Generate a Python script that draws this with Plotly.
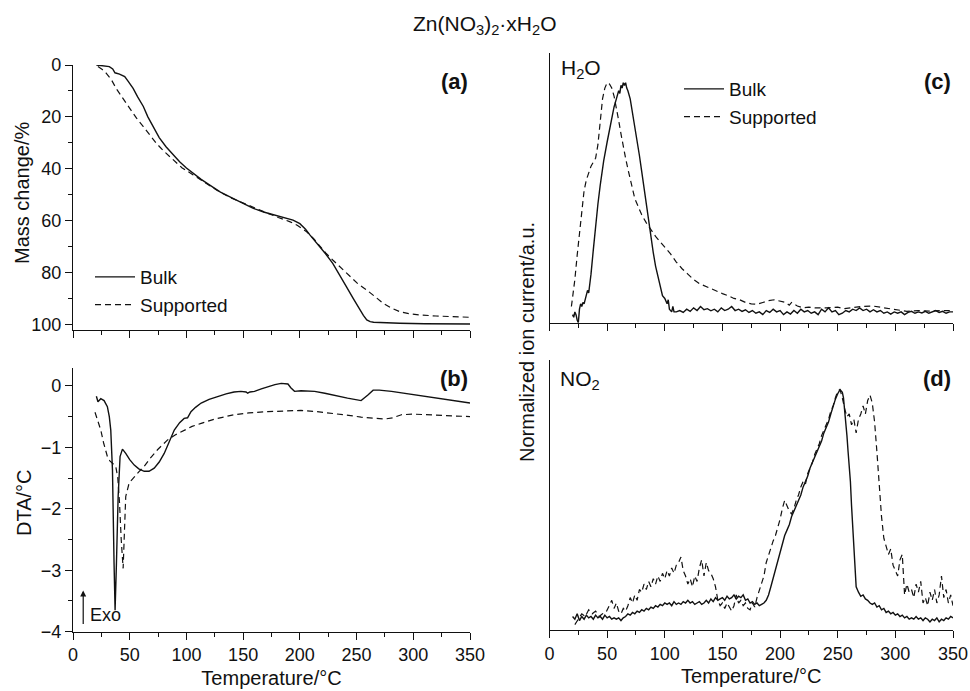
import plotly.graph_objects as go

# ---------------- (a) TG: mass change / % ----------------
tg_bulk_T = [20.6, 26, 32, 35, 37, 41, 45.6, 49, 53, 57, 62, 66, 70.6, 76, 82, 88, 94, 100, 106, 113,
             120.6, 130, 141, 150, 159, 168, 176.5, 185, 194, 200, 205, 209, 213, 217.6, 223, 229, 235,
             241, 247, 253, 256, 259, 262, 265, 275, 288, 310, 330, 350]
tg_bulk_m = [0, 0.2, 0.6, 1.5, 3, 3.5, 4.5, 6.5, 9, 12.3, 16, 20, 23.8, 28, 31.5, 34.6, 37.3, 39.7, 41.8, 44.1,
             46.3, 49, 51.4, 53.4, 55.3, 56.7, 57.8, 58.8, 59.8, 61.2, 63.3, 65.6, 67.7, 70, 73, 76.5, 80.8,
             85.5, 90, 94.5, 96.6, 98.3, 99, 99.2, 99.4, 99.6, 99.8, 99.9, 99.9]

tg_sup_T = [22, 25.5, 29.4, 34, 38, 44, 50, 56, 62, 67.5, 73.5, 80, 88, 96, 106, 116, 126.5, 138, 150, 160,
            170.6, 181, 191, 198, 206, 212, 217.6, 223, 229, 236, 244, 251, 259, 266, 273.5, 281, 288, 296,
            306, 320, 335, 350]
tg_sup_m = [0.6, 1.6, 3.2, 5.8, 9, 13, 16.7, 20.5, 23.8, 27, 30.2, 33.2, 36.6, 39.6, 42.4, 45.4, 48.2, 51, 53.3, 55.2,
            57, 58.8, 60.4, 61.9, 64.3, 66.9, 70, 72.6, 75.2, 78.2, 81.6, 84.3, 86.8, 89.3, 91.9, 93.8, 95.1, 95.9,
            96.4, 96.8, 97.1, 97.3]

# ---------------- (b) DTA / °C ----------------
dta_bulk_T = [20.6, 22, 24.5, 27.4, 30.3, 32, 33.3, 34.8, 36.2, 37.1, 38.3, 39.8, 41.5, 43.6, 46.5, 50, 54,
              58, 62.8, 67, 71.6, 76, 80.4, 85, 89.3, 94, 98, 101, 104, 108, 113, 120, 127.6, 135, 142,
              148, 152.6, 154, 156, 160, 166, 171.8, 178, 183.6, 187, 189.5, 192, 195.3, 201, 213, 222,
              230.7, 242, 254, 257, 260, 264.6, 270, 280.8, 292, 304, 320, 335, 350]
dta_bulk_v = [-0.17, -0.26, -0.21, -0.24, -0.34, -0.5, -0.72, -1.37, -2.89, -3.65, -2.89, -1.8, -1.15, -1.03, -1.1, -1.2, -1.29,
              -1.35, -1.39, -1.39, -1.34, -1.24, -1.1, -0.9, -0.72, -0.6, -0.53, -0.52, -0.42, -0.35, -0.28, -0.22, -0.17, -0.13, -0.1,
              -0.09, -0.1, -0.12, -0.1, -0.09, -0.05, -0.01, 0.02, 0.04, 0.04, 0.03, -0.03, -0.09, -0.08, -0.09, -0.12,
              -0.16, -0.2, -0.24, -0.2, -0.15, -0.07, -0.07, -0.09, -0.12, -0.16, -0.2, -0.24, -0.28]

dta_sup_T = [19.4, 22, 24.5, 27, 30.3, 32.5, 34.8, 37.7, 39.5, 41, 42.5, 44.2, 45.3, 46.5, 49.5, 54, 58, 62.8,
             68, 74.5, 83.4, 90, 98, 105, 113, 125, 142, 155, 171.8, 185, 201, 215, 230.7, 243, 254, 265,
             275, 282, 289.6, 300, 319, 335, 350]
dta_sup_v = [-0.43, -0.58, -0.72, -0.93, -1.15, -1.22, -1.26, -1.31, -1.5, -1.9, -2.5, -2.97, -2.4, -1.8, -1.58, -1.48, -1.4, -1.31,
             -1.18, -1.04, -0.88, -0.8, -0.72, -0.66, -0.61, -0.54, -0.47, -0.44, -0.42, -0.41, -0.4, -0.42, -0.45, -0.48, -0.51, -0.53,
             -0.54, -0.52, -0.47, -0.46, -0.48, -0.49, -0.5]

# ---------------- (c) H2O ion current (normalized) ----------------
h2o_bulk_T = [20, 21, 22, 23, 24, 25, 26, 27, 28, 29, 30, 31, 32, 33, 34, 35, 36, 38, 40, 42, 44, 47, 50, 53,
              56, 58, 60, 61, 62, 63, 64, 65, 66, 67, 68, 70, 72, 74, 76, 78, 80, 82, 84, 86, 88, 90, 92,
              94, 96, 98, 100, 101, 102, 103, 104, 106, 107, 108,
              110, 113, 116, 119, 122, 125, 128, 131, 134, 137, 140, 143, 146, 149, 152, 155, 158, 161, 164,
              167, 170, 173, 176, 179, 182, 185, 188, 191, 194, 197, 200, 203, 206, 209, 212, 215, 218, 221,
              224, 227, 230, 233, 236, 239, 242, 245, 248, 251, 254, 257, 260, 263, 266, 269, 272, 275, 278,
              281, 284, 287, 290, 293, 296, 299, 302, 305, 308, 311, 314, 317, 320, 323, 326, 329, 332, 335,
              338, 341, 344, 347, 350]
h2o_bulk_v = [0.03, 0.02, 0.04, 0.03, 0.01, 0.0, 0.05, 0.07, 0.06, 0.075, 0.07, 0.09, 0.1, 0.12, 0.11, 0.14, 0.18, 0.27, 0.36, 0.44, 0.51, 0.6, 0.67, 0.74,
              0.8, 0.83, 0.86, 0.85, 0.88, 0.87, 0.89, 0.88, 0.89, 0.87, 0.86, 0.83, 0.78, 0.73, 0.68, 0.62, 0.56, 0.5, 0.43, 0.37, 0.31, 0.26, 0.21,
              0.17, 0.13, 0.1, 0.09, 0.08, 0.07, 0.085, 0.05, 0.04, 0.06, 0.04,
              0.04, 0.045, 0.038, 0.05, 0.042, 0.055, 0.045, 0.06, 0.048, 0.052, 0.044, 0.05, 0.04, 0.055, 0.045, 0.05, 0.06, 0.045, 0.05,
              0.042, 0.048, 0.038, 0.045, 0.035, 0.04, 0.03, 0.045, 0.038, 0.05, 0.04, 0.045, 0.03, 0.04, 0.032, 0.045, 0.035, 0.05, 0.04,
              0.045, 0.035, 0.04, 0.03, 0.05, 0.04, 0.055, 0.04, 0.045, 0.03, 0.035, 0.045, 0.04, 0.05, 0.045, 0.055, 0.045, 0.05, 0.04,
              0.048, 0.04, 0.045, 0.035, 0.04, 0.032, 0.04, 0.035, 0.04, 0.03, 0.038, 0.042, 0.035, 0.04, 0.036, 0.042, 0.035, 0.04, 0.045,
              0.038, 0.042, 0.035, 0.04, 0.04]

h2o_sup_T = [19, 20, 21, 22, 24, 26, 28, 30, 32, 34, 36, 38, 40, 42, 44, 46, 48, 50, 52, 54, 56, 58, 60, 62, 64,
             66, 68, 70, 72, 74, 76, 78, 80, 84, 88, 92, 96, 100, 105, 110, 115, 120, 125, 130, 135, 140, 145,
             150, 155, 160, 165, 170, 175, 180, 185, 190, 195, 200, 205, 208, 210, 215, 220, 225, 230, 240, 250,
             255, 260, 270, 280, 290, 300, 310, 320, 330, 340, 350]
h2o_sup_v = [0.06, 0.09, 0.13, 0.16, 0.25, 0.33, 0.42, 0.49, 0.53, 0.56, 0.58, 0.595, 0.61, 0.66, 0.76, 0.83, 0.87, 0.89, 0.885, 0.87, 0.84, 0.8, 0.75, 0.7, 0.65,
             0.61, 0.57, 0.53, 0.5, 0.46, 0.44, 0.42, 0.4, 0.37, 0.345, 0.32, 0.3, 0.28, 0.255, 0.225, 0.2, 0.18, 0.16, 0.145, 0.135, 0.125, 0.115,
             0.108, 0.1, 0.09, 0.085, 0.075, 0.07, 0.068, 0.075, 0.082, 0.085, 0.08, 0.075, 0.065, 0.075, 0.062, 0.055, 0.058, 0.055, 0.055, 0.058,
             0.052, 0.055, 0.06, 0.062, 0.055, 0.048, 0.042, 0.045, 0.043, 0.045, 0.045]

# ---------------- (d) NO2 ion current (normalized) ----------------
no2_bulk_T = [20, 22, 24, 26, 28, 30, 32, 34, 36, 38, 40, 42, 44, 46, 48, 50, 52, 54, 56, 58, 60, 62, 64, 66, 68, 70,
              72, 74, 76, 78, 80, 82, 84, 86, 88, 90, 92, 94, 96, 98, 100, 102, 104, 106, 108, 110, 112, 114, 116, 118,
              120, 122, 124, 126, 128, 130, 132, 134, 136, 138, 140, 142, 144, 146, 148, 150, 152, 154, 156, 158, 160,
              162, 164, 166, 168, 170, 172, 174, 176, 178, 180, 182, 184, 186, 188, 190, 192, 194, 196, 198, 200, 202,
              204, 206, 208, 210, 212, 214, 216, 218, 220, 222, 224, 226, 228, 230, 232, 234, 236, 238, 240, 242, 244,
              246, 248, 250, 252, 253, 254, 255, 256, 257, 258, 259, 260, 261, 262, 263, 264, 265, 266, 268, 270, 272,
              274, 276, 278, 280, 282, 284, 286, 288, 290, 292, 294, 296, 298, 300, 302, 304, 306, 308, 310, 312, 314,
              316, 318, 320, 322, 324, 326, 328, 330, 332, 334, 336, 338, 340, 342, 344, 346, 348, 350]
no2_bulk_v = [0.05, 0.04, 0.06, 0.035, 0.05, 0.04, 0.055, 0.045, 0.05, 0.04, 0.055, 0.045, 0.05, 0.04, 0.055, 0.045, 0.05, 0.04, 0.045, 0.04, 0.045, 0.035, 0.045, 0.05, 0.06, 0.055,
              0.065, 0.06, 0.07, 0.065, 0.075, 0.07, 0.08, 0.075, 0.085, 0.08, 0.09, 0.085, 0.095, 0.09, 0.1, 0.095, 0.1, 0.09, 0.105, 0.095, 0.1, 0.095, 0.105, 0.1,
              0.11, 0.1, 0.105, 0.095, 0.1, 0.105, 0.095, 0.1, 0.11, 0.1, 0.115, 0.105, 0.12, 0.11, 0.115, 0.12, 0.11, 0.125, 0.115, 0.12, 0.13,
              0.115, 0.125, 0.12, 0.13, 0.11, 0.115, 0.1, 0.105, 0.095, 0.1, 0.09, 0.095, 0.1, 0.11, 0.13, 0.16, 0.19, 0.22, 0.26, 0.29, 0.32,
              0.35, 0.37, 0.39, 0.42, 0.44, 0.46, 0.48, 0.5, 0.53, 0.55, 0.57, 0.6, 0.62, 0.64, 0.66, 0.685, 0.7, 0.73, 0.75, 0.77, 0.8,
              0.83, 0.855, 0.875, 0.89, 0.885, 0.88, 0.86, 0.82, 0.77, 0.72, 0.66, 0.61, 0.55, 0.46, 0.38, 0.28, 0.2, 0.16, 0.14, 0.125, 0.13,
              0.115, 0.11, 0.1, 0.095, 0.1, 0.085, 0.09, 0.075, 0.08, 0.065, 0.07, 0.06, 0.065, 0.055, 0.06, 0.05, 0.055, 0.045, 0.05, 0.04, 0.045,
              0.04, 0.05, 0.04, 0.045, 0.035, 0.045, 0.04, 0.03, 0.04, 0.035, 0.045, 0.03, 0.04, 0.035, 0.045, 0.04, 0.05, 0.045]

no2_sup_T = [22, 25, 28, 31, 34, 37, 40, 43, 46, 49, 52, 54, 56, 58, 60, 62, 64, 66, 68, 70, 72, 74, 76, 78, 80,
             82, 84, 86, 88, 90, 92, 94, 96, 98, 100, 102, 104, 106, 108, 110, 112, 114, 116, 118, 120, 122, 124,
             126, 128, 130, 132, 134, 136, 138, 140, 142, 144, 146, 148, 150, 152, 154, 156, 158, 160, 162, 164,
             166, 168, 170, 172, 174, 176, 178, 180, 182, 184, 186, 188, 190, 192, 194, 196, 198, 200, 202, 204,
             206, 208, 210, 212, 214, 216, 218, 220, 222, 224, 226, 228, 230, 232, 234, 236, 238, 240, 242, 244,
             246, 248, 250, 252, 254, 256, 258, 260, 262, 264, 266, 268, 270, 272, 274, 276, 278, 280, 282, 284,
             286, 288, 290, 292, 294, 296, 298, 300, 302, 304, 306, 308, 310, 312, 314, 316, 318, 320, 322, 324,
             326, 328, 330, 332, 334, 336, 338, 340, 342, 344, 346, 348, 350]
no2_sup_v = [0.02, 0.04, 0.06, 0.05, 0.075, 0.06, 0.07, 0.05, 0.06, 0.065, 0.09, 0.11, 0.08, 0.1, 0.07, 0.06, 0.08, 0.07, 0.09, 0.12, 0.1, 0.13, 0.11, 0.15, 0.14,
             0.17, 0.15, 0.18, 0.16, 0.19, 0.17, 0.2, 0.18, 0.21, 0.19, 0.22, 0.2, 0.23, 0.21, 0.24, 0.25, 0.27, 0.22, 0.2, 0.17, 0.19, 0.16,
             0.2, 0.18, 0.23, 0.26, 0.2, 0.25, 0.22, 0.21, 0.19, 0.16, 0.11, 0.09, 0.1, 0.08, 0.1, 0.085, 0.07, 0.09, 0.13, 0.1,
             0.11, 0.09, 0.1, 0.08, 0.075, 0.1, 0.085, 0.12, 0.15, 0.17, 0.2, 0.25, 0.28, 0.3, 0.33, 0.35, 0.38, 0.41, 0.45, 0.48,
             0.46, 0.44, 0.43, 0.45, 0.48, 0.5, 0.53, 0.55, 0.54, 0.58, 0.6, 0.62, 0.65, 0.67, 0.69, 0.72, 0.74, 0.76, 0.78, 0.81,
             0.83, 0.86, 0.885, 0.89, 0.86, 0.82, 0.79, 0.8, 0.76, 0.78, 0.73, 0.78, 0.8, 0.83, 0.8, 0.85, 0.87, 0.84, 0.77, 0.66,
             0.52, 0.42, 0.34, 0.31, 0.28, 0.3, 0.24, 0.22, 0.2, 0.26, 0.28, 0.13, 0.17, 0.14, 0.15, 0.12, 0.17, 0.14, 0.18, 0.1,
             0.12, 0.09, 0.14, 0.11, 0.15, 0.1, 0.13, 0.2, 0.12, 0.15, 0.1, 0.13, 0.09]

# ---------------- styling ----------------
FONT = "Liberation Sans, Arial, Helvetica, sans-serif"
INK = "#111111"
SOLID = dict(color=INK, width=1.4)
DASHED = dict(color=INK, width=1.2, dash="6px,4px")

fig = go.Figure()
fig.add_trace(go.Scatter(x=tg_bulk_T, y=tg_bulk_m, mode="lines", line=SOLID, name="Bulk",
                         xaxis="x", yaxis="y", legend="legend"))
fig.add_trace(go.Scatter(x=tg_sup_T, y=tg_sup_m, mode="lines", line=DASHED, name="Supported",
                         xaxis="x", yaxis="y", legend="legend"))
fig.add_trace(go.Scatter(x=dta_bulk_T, y=dta_bulk_v, mode="lines", line=SOLID, showlegend=False,
                         xaxis="x2", yaxis="y2"))
fig.add_trace(go.Scatter(x=dta_sup_T, y=dta_sup_v, mode="lines", line=DASHED, showlegend=False,
                         xaxis="x2", yaxis="y2"))
fig.add_trace(go.Scatter(x=h2o_bulk_T, y=h2o_bulk_v, mode="lines", line=SOLID, name="Bulk",
                         xaxis="x3", yaxis="y3", legend="legend2"))
fig.add_trace(go.Scatter(x=h2o_sup_T, y=h2o_sup_v, mode="lines", line=DASHED, name="Supported",
                         xaxis="x3", yaxis="y3", legend="legend2"))
fig.add_trace(go.Scatter(x=no2_bulk_T, y=no2_bulk_v, mode="lines", line=SOLID, showlegend=False,
                         xaxis="x4", yaxis="y4"))
fig.add_trace(go.Scatter(x=no2_sup_T, y=no2_sup_v, mode="lines", line=DASHED, showlegend=False,
                         xaxis="x4", yaxis="y4"))

W, H = 970, 691


def px_x(p):
    return p / W


def px_y(p):
    return 1 - p / H


axis_common = dict(showline=True, linecolor=INK, linewidth=1.2, showgrid=False, zeroline=False,
                   ticks="outside", tickcolor=INK, tickwidth=1.1, ticklen=7, automargin=False,
                   tickfont=dict(family=FONT, size=18, color=INK))


def temp_axis(domain, anchor, labels):
    d = dict(axis_common, domain=domain, anchor=anchor, range=[0, 350], tick0=0, dtick=50,
             showticklabels=labels,
             minor=dict(dtick=25, tick0=0, ticklen=4, ticks="outside", tickcolor=INK, tickwidth=1.1))
    if labels:
        d["title"] = dict(text="Temperature/°C", font=dict(family=FONT, size=20, color=INK), standoff=6)
    return d


left_x = [px_x(73), px_x(470)]
right_x = [px_x(549.5), px_x(953)]

fig.update_layout(
    width=W, height=H, margin=dict(l=0, r=0, t=0, b=0, autoexpand=False),
    paper_bgcolor="white", plot_bgcolor="white",
    font=dict(family=FONT, color=INK),
    xaxis=temp_axis(left_x, "y", False),
    yaxis=dict(axis_common, domain=[px_y(330), px_y(65)], anchor="x", range=[102.2, 0],
               tick0=0, dtick=20,
               minor=dict(dtick=10, tick0=0, ticklen=4, ticks="outside", tickcolor=INK, tickwidth=1.1)),
    xaxis2=temp_axis(left_x, "y2", True),
    yaxis2=dict(axis_common, domain=[px_y(631.7), px_y(368)], anchor="x2", range=[-4, 0.29],
                tick0=0, dtick=1,
                minor=dict(dtick=0.5, tick0=0, ticklen=4, ticks="outside", tickcolor=INK, tickwidth=1.1)),
    xaxis3=temp_axis(right_x, "y3", False),
    yaxis3=dict(axis_common, domain=[px_y(322.7), px_y(53)], anchor="x3", range=[0, 1],
                ticks="", showticklabels=False),
    xaxis4=temp_axis(right_x, "y4", True),
    yaxis4=dict(axis_common, domain=[px_y(630), px_y(360)], anchor="x4", range=[0, 1],
                ticks="", showticklabels=False),
    legend=dict(x=px_x(90), y=px_y(258), xanchor="left", yanchor="top", bgcolor="rgba(0,0,0,0)",
                font=dict(family=FONT, size=19, color=INK), tracegroupgap=0, itemwidth=40),
    legend2=dict(x=px_x(679), y=px_y(70), xanchor="left", yanchor="top", bgcolor="rgba(0,0,0,0)",
                 font=dict(family=FONT, size=19, color=INK), tracegroupgap=0, itemwidth=40),
    showlegend=True,
)

ann = []
# figure title
ann.append(dict(text="Zn(NO<sub>3</sub>)<sub>2</sub>·xH<sub>2</sub>O", x=px_x(485), y=px_y(25),
                xref="paper", yref="paper", xanchor="center", yanchor="middle", showarrow=False,
                font=dict(family=FONT, size=21, color=INK)))
# y axis titles
for txt, xp, yp in [("Mass change/%", 22, 193), ("DTA/°C", 24, 503),
                    ("Normalized ion current/a.u.", 527, 342)]:
    ann.append(dict(text=txt, x=px_x(xp), y=px_y(yp), xref="paper", yref="paper",
                    xanchor="center", yanchor="middle", textangle=-90, showarrow=False,
                    font=dict(family=FONT, size=20, color=INK)))
# panel letters
for txt, xp, yp in [("(a)", 470, 81), ("(b)", 470, 378), ("(c)", 953, 81), ("(d)", 953, 378)]:
    ann.append(dict(text="<b>%s</b>" % txt, x=px_x(xp), y=px_y(yp),
                    xref="paper", yref="paper", xanchor="right", yanchor="middle", showarrow=False,
                    font=dict(family=FONT, size=22, color=INK)))
# species labels
for txt, xp, yp in [("H<sub>2</sub>O", 559, 69), ("NO<sub>2</sub>", 558, 380)]:
    ann.append(dict(text=txt, x=px_x(xp), y=px_y(yp), xref="paper", yref="paper",
                    xanchor="left", yanchor="middle", showarrow=False,
                    font=dict(family=FONT, size=21, color=INK)))
# exothermic direction marker in the DTA panel
ann.append(dict(x=9, y=-3.33, ax=9, ay=-3.9, xref="x2", yref="y2", axref="x2", ayref="y2",
                text="", showarrow=True, arrowhead=2, arrowsize=1, arrowwidth=1.2, arrowcolor=INK))
ann.append(dict(text="Exo", x=13.5, y=-3.73, xref="x2", yref="y2", xanchor="left", yanchor="middle",
                showarrow=False, font=dict(family=FONT, size=18, color=INK)))
fig.update_layout(annotations=ann)

fig.write_html("out.html")
